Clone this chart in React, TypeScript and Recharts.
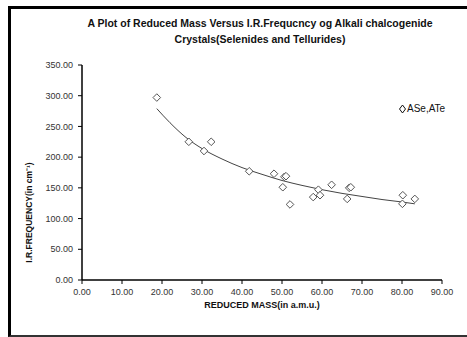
import { ComposedChart, Scatter, Line, XAxis, YAxis, Legend, Label } from "recharts";

// reduced mass (a.m.u.) and IR frequency (cm^-1)
const massValues = [18.7, 26.7, 30.5, 32.3, 41.8, 48.0, 50.6, 51.0, 50.2, 52.0, 57.8, 59.1, 59.5, 62.4, 66.8, 67.2, 66.3, 80.2, 80.1, 83.2];
const freqValues = [297, 225, 210, 225, 177, 173, 168, 169, 151, 123, 135, 147, 138, 155, 150, 151, 132, 138, 124, 132];

// trend curve as traced on the picture
const trendMass = [18.7, 22, 26, 30, 35, 40, 45, 50, 55, 60, 65, 70, 75, 80, 83.2];
const trendFreq = [279, 256, 232, 214, 197, 183, 172, 162, 154, 147, 141, 136, 131, 127, 124];

const xTicks = [0, 10, 20, 30, 40, 50, 60, 70, 80, 90];
const yTicks = [0, 50, 100, 150, 200, 250, 300, 350];

const seriesName = "ASe,ATe";

const points = massValues.map((m, i) => ({ mass: m, freq: freqValues[i] }));
const trend = trendMass.map((m, i) => ({ mass: m, fit: trendFreq[i] }));

const font = "'Liberation Sans Narrow', 'Liberation Sans', Arial, sans-serif";
const tickStyle = { fill: "#333", fontSize: 9, fontFamily: font };

const Diamond = (props: any) => {
  const { cx, cy } = props;
  if (cx == null || cy == null) return null;
  const r = 3.8;
  return (
    <path
      d={`M${cx},${cy - r}L${cx + r},${cy}L${cx},${cy + r}L${cx - r},${cy}Z`}
      fill="#fff"
      stroke="#555"
      strokeWidth={1}
    />
  );
};

const LegendBox = () => (
  <div style={{ fontFamily: font, fontSize: 10, color: "#111", display: "flex", alignItems: "center" }}>
    <svg width={7} height={10} style={{ marginRight: 1 }}>
      <path d="M3.5,1L6.5,5L3.5,9L0.5,5Z" fill="none" stroke="#111" strokeWidth={1} />
    </svg>
    <span>{seriesName}</span>
  </div>
);

export default function App() {
  return (
    <div style={{ position: "fixed", left: 0, top: 0, width: 467, height: 337, background: "#fff", overflow: "hidden" }}>
      <div
        style={{
          position: "absolute",
          left: 8,
          top: 6,
          width: 600,
          height: 326,
          borderTop: "3px solid #000",
          borderLeft: "3px solid #000",
          borderBottom: "2px solid #333",
        }}
      />
      <div
        style={{
          position: "absolute",
          left: 60,
          width: 400,
          top: 15,
          textAlign: "center",
          fontFamily: font,
          fontWeight: "bold",
          fontSize: 10.5,
          lineHeight: "16px",
          color: "#111",
        }}
      >
        A Plot of Reduced Mass Versus I.R.Frequcncy og Alkali chalcogenide
        <br />
        Crystals(Selenides and Tellurides)
      </div>
      <ComposedChart
        width={467}
        height={337}
        margin={{ top: 65, right: 25, left: 0, bottom: 0 }}
        style={{ position: "absolute", left: 0, top: 0 }}
      >
        <XAxis
          dataKey="mass"
          type="number"
          domain={[0, 90]}
          ticks={xTicks}
          allowDuplicatedCategory={false}
          tickFormatter={(v: number) => v.toFixed(2)}
          tick={tickStyle}
          tickSize={4}
          tickMargin={5}
          height={46}
          axisLine={{ stroke: "#000", strokeWidth: 1.5 }}
          tickLine={{ stroke: "#000" }}
        >
          <Label
            value="REDUCED MASS(in a.m.u.)"
            position="insideTop"
            offset={22}
            style={{ fontFamily: font, fontWeight: "bold", fontSize: 9, fill: "#111" }}
          />
        </XAxis>
        <YAxis
          type="number"
          domain={[0, 350]}
          ticks={yTicks}
          tickFormatter={(v: number) => v.toFixed(2)}
          tick={tickStyle}
          tickSize={4}
          tickMargin={5}
          width={82}
          axisLine={{ stroke: "#000", strokeWidth: 1.5 }}
          tickLine={{ stroke: "#000" }}
        >
          <Label
            angle={-90}
            position="insideLeft"
            offset={29}
            dy={40}
            value="I.R.FREQUENCY(in cm⁻¹)"
            style={{ fontFamily: font, fontWeight: "bold", fontSize: 8.5, fill: "#111", textAnchor: "middle" }}
          />
        </YAxis>
        <Legend
          content={<LegendBox />}
          wrapperStyle={{ position: "absolute", left: 399, top: 103, width: 60 }}
        />
        <Line
          data={trend}
          dataKey="fit"
          type="monotone"
          stroke="#444"
          strokeWidth={1}
          dot={false}
          legendType="none"
          isAnimationActive={false}
        />
        <Scatter
          data={points}
          dataKey="freq"
          name={seriesName}
          shape={<Diamond />}
          isAnimationActive={false}
        />
      </ComposedChart>
    </div>
  );
}
